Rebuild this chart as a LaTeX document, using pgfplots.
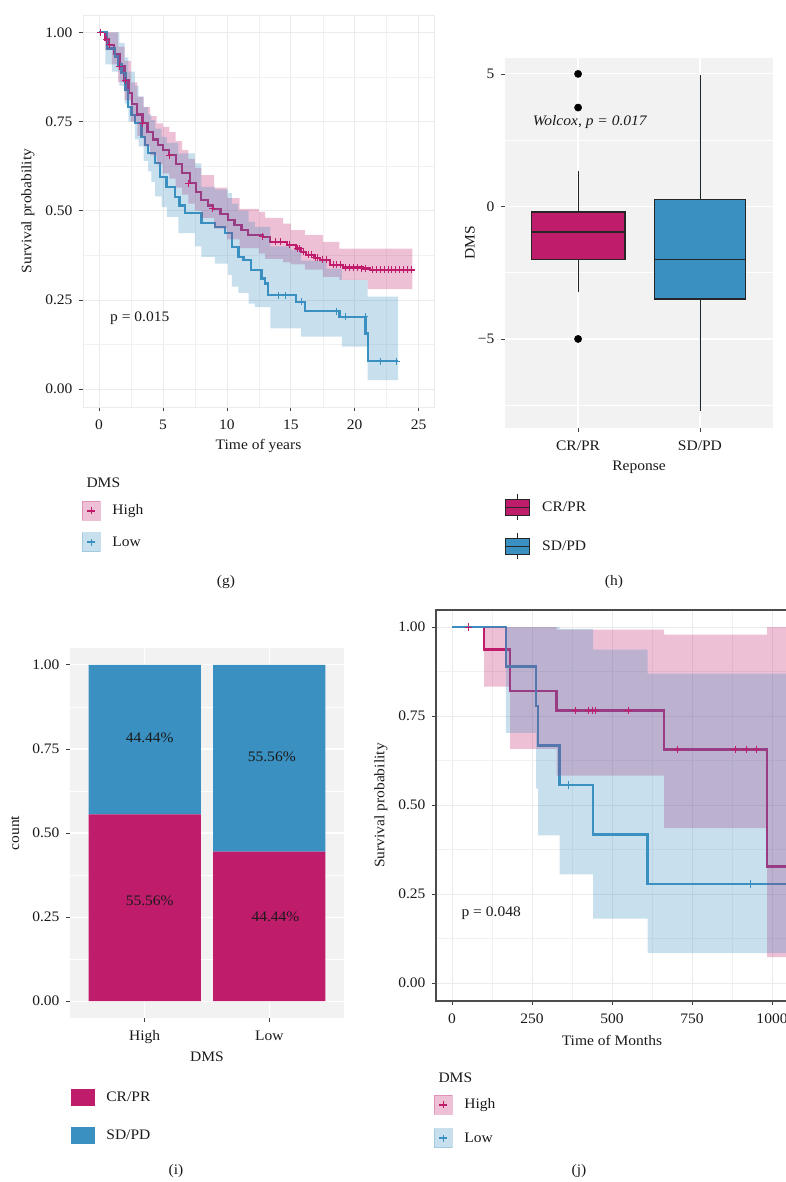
\documentclass[border=0pt]{standalone}
\usepackage{fontspec}
\setmainfont{Liberation Serif}[FakeStretch=1.07]
\usepackage{pgfplots}
\usepackage{pgfplotstable}
\pgfplotsset{compat=1.18}
\usepgfplotslibrary{fillbetween,statistics}

\definecolor{mag}{HTML}{C01C6C}
\definecolor{blu}{HTML}{3A90C0}
\definecolor{panelbg}{HTML}{F2F2F2}
\definecolor{gridc}{HTML}{EBEBEB}
\definecolor{txt}{HTML}{1A1A1A}
\newcommand{\fs}{\fontsize{14.5}{17}\selectfont}

\pgfplotsset{
  /tikz/fill between/on layer=main,
  base/.style={
    scale only axis,
    font=\fs,
    tick label style={font=\fs, text=txt},
    xticklabel style={yshift=-5pt},
    yticklabel style={xshift=-3pt},
    label style={font=\fs, text=txt},
    /pgf/number format/assume math mode=true,
    /pgf/number format/1000 sep={},
    tick align=outside, tick pos=left,
    major tick length=4pt, minor tick length=0pt,
    tick style={black!75, line width=0.7pt},
    legend cell align=left,
    legend style={draw=none, fill=none, font=\fs, inner sep=0pt, outer sep=0pt,
      nodes={inner sep=0pt, text=txt}, column sep=12pt},
  },
  km/.style={base, axis line style={draw=gridc, line width=0.6pt}, grid=both,
    major grid style={draw=gridc, line width=0.7pt},
    minor grid style={draw=gridc!70, line width=0.5pt}},
  gg/.style={base, axis background/.style={fill=panelbg}, axis line style={draw=none},
    grid=both, major grid style={draw=white, line width=1.2pt},
    minor grid style={draw=white, line width=0.6pt}},
  yfmt/.style={yticklabel style={/pgf/number format/.cd, fixed, fixed zerofill, precision=2}},
  kmkeyH/.style={legend image code/.code={
      \fill[mag, opacity=0.28] (0pt,-9.5pt) rectangle (18pt,9.5pt);
      \draw[mag, line width=1.6pt] (5pt,0pt)--(13pt,0pt);
      \draw[mag, line width=0.8pt] (9pt,-3.5pt)--(9pt,3.5pt);}},
  kmkeyL/.style={legend image code/.code={
      \fill[blu, opacity=0.28] (0pt,-9.5pt) rectangle (18pt,9.5pt);
      \draw[blu, line width=1.6pt] (5pt,0pt)--(13pt,0pt);
      \draw[blu, line width=0.8pt] (9pt,-3.5pt)--(9pt,3.5pt);}},
}

\begin{document}

% ---------- (g) ----------
\pgfplotstableread{
x y
0 1
0.5 0.98
0.8 0.965
1.2 0.94
1.6 0.905
2.0 0.865
2.3 0.83
2.6 0.80
3.0 0.77
3.4 0.745
3.8 0.72
4.2 0.70
4.6 0.685
5.0 0.67
5.5 0.656
6.0 0.63
6.5 0.605
7.1 0.577
7.6 0.553
8.0 0.53
8.5 0.515
8.9 0.505
9.5 0.49
10.1 0.474
10.6 0.46
11.15 0.446
11.66 0.432
12.8 0.427
13.4 0.413
14.7 0.404
15.4 0.394
15.8 0.385
16.2 0.376
16.8 0.368
17.3 0.362
18.05 0.348
19.1 0.341
20.65 0.338
21.2 0.334
24.7 0.334
}\gHigh

\pgfplotstableread{
x y
0.1 1.0
0.6 0.98
0.8 0.965
1.6 0.905
2.1 0.865
3.4 0.745
5.5 0.656
7.0 0.577
8.9 0.505
12.8 0.427
13.8 0.413
14.2 0.413
14.9 0.404
15.5 0.394
15.7 0.394
16.0 0.385
16.4 0.376
16.6 0.376
16.9 0.368
17.1 0.368
17.5 0.362
17.8 0.362
18.3 0.348
18.6 0.348
18.9 0.348
19.3 0.341
19.6 0.341
19.9 0.341
20.2 0.341
20.5 0.338
20.8 0.338
21.4 0.334
21.7 0.334
22.0 0.334
22.3 0.334
22.6 0.334
22.9 0.334
23.2 0.334
23.5 0.334
23.8 0.334
24.1 0.334
24.4 0.334
}\gHighC

\pgfplotstableread{
x y
0 1
0.6 0.955
1.25 0.932
1.5 0.91
1.77 0.885
2.08 0.838
2.29 0.791
2.55 0.768
2.81 0.745
3.33 0.707
3.6 0.685
3.85 0.661
4.38 0.633
4.77 0.595
5.29 0.567
5.94 0.539
6.3 0.515
6.72 0.493
8.02 0.465
9.06 0.455
9.84 0.437
10.4 0.399
10.9 0.371
11.3 0.362
11.9 0.334
12.7 0.310
13.0 0.296
13.2 0.263
15.4 0.245
16.1 0.219
18.8 0.203
20.85 0.156
21.05 0.078
23.4 0.078
}\gLow

\pgfplotstableread{
x y
14.0 0.263
14.6 0.263
15.8 0.245
18.6 0.219
19.3 0.203
20.8 0.203
22.0 0.078
23.3 0.078
}\gLowC

\pgfplotstableread{
x lo up
0 1 1
0.5 0.95 1.0
1.0 0.91 1.0
1.5 0.86 0.96
2.0 0.81 0.92
2.5 0.75 0.86
3.0 0.71 0.82
3.5 0.68 0.79
4.0 0.655 0.765
4.5 0.63 0.745
5.0 0.605 0.735
5.5 0.59 0.72
6.0 0.565 0.695
6.5 0.545 0.67
7.0 0.52 0.645
7.5 0.50 0.62
8.0 0.48 0.60
9.0 0.45 0.565
10.0 0.42 0.535
11.0 0.395 0.505
12.5 0.38 0.497
13.0 0.365 0.48
14.4 0.355 0.464
15.0 0.35 0.446
16.1 0.335 0.432
17.5 0.315 0.413
18.8 0.306 0.394
21.0 0.28 0.394
24.5 0.28 0.394
}\gHband

\pgfplotstableread{
x lo up
0 1 1
0.5 0.91 1.0
1.0 0.89 1.0
1.6 0.85 0.97
2.0 0.80 0.93
2.3 0.75 0.89
2.8 0.70 0.85
3.1 0.68 0.82
3.5 0.64 0.79
3.85 0.61 0.77
4.1 0.58 0.754
4.4 0.54 0.73
4.9 0.51 0.707
5.3 0.483 0.69
6.2 0.437 0.661
7.5 0.40 0.633
8.0 0.371 0.567
9.06 0.352 0.56
10.1 0.32 0.549
10.4 0.287 0.52
10.9 0.27 0.50
11.7 0.24 0.469
12.2 0.23 0.455
13.4 0.17 0.40
15.0 0.17 0.39
15.8 0.147 0.36
17.8 0.147 0.338
19.0 0.119 0.306
21.0 0.025 0.259
23.4 0.025 0.259
}\gLband

% ---------- (j) ----------
\pgfplotstableread{
x y
0 1
100 0.9375
182 0.8203
327 0.7656
663 0.656
985 0.328
1100 0.328
}\jHigh

\pgfplotstableread{
x y
52 1
386 0.7656
426 0.7656
438 0.7656
448 0.7656
550 0.7656
705 0.656
885 0.656
919 0.656
951 0.656
}\jHighC

\pgfplotstableread{
x y
0 1
168 0.889
263 0.778
269 0.667
336 0.556
441 0.417
611 0.278
1100 0.278
}\jLow

\pgfplotstableread{
x y
363 0.556
933 0.278
}\jLowC

\pgfplotstableread{
x lo up
0 1 1
100 0.833 1.0
182 0.658 1.0
327 0.583 0.993
663 0.435 0.979
985 0.073 1.0
1100 0.073 1.0
}\jHband

\pgfplotstableread{
x lo up
0 1 1
168 0.703 1.0
263 0.546 1.0
269 0.415 1.0
336 0.305 0.995
441 0.181 0.937
611 0.084 0.869
1100 0.084 0.869
}\jLband

\begin{tikzpicture}

% ===== (g) =====
\begin{axis}[km, yfmt, at={(83pt,-407pt)}, anchor=south west, width=351pt, height=392pt,
  xmin=-1.25, xmax=26.2, ymin=-0.05, ymax=1.0485,
  xtick={0,5,10,15,20,25}, minor xtick={2.5,7.5,12.5,17.5,22.5},
  ytick={0,0.25,0.5,0.75,1}, minor ytick={0.125,0.375,0.625,0.875},
  xlabel={Time of years}, ylabel={Survival probability},
  xlabel style={at={(axis description cs:0.5,-0.0995)}, anchor=center},
  ylabel style={at={(axis description cs:-0.157,0.5)}, anchor=center},
  legend style={at={(axis description cs:-0.003,-0.2398)}, anchor=north west, row sep=12pt},
]
\addplot[forget plot, const plot, mag, line width=2.3pt] table {\gHigh};
\addplot[forget plot, const plot, blu, line width=2.3pt] table {\gLow};
\addplot[forget plot, only marks, mark=+, mark size=3.5pt, mag, line width=0.9pt] table {\gHighC};
\addplot[forget plot, only marks, mark=+, mark size=3.5pt, blu, line width=0.9pt] table {\gLowC};
\addplot[forget plot, draw=none, const plot, name path=ghl] table[x=x,y=lo] {\gHband};
\addplot[forget plot, draw=none, const plot, name path=ghu] table[x=x,y=up] {\gHband};
\addplot[forget plot, fill=mag, fill opacity=0.28, draw=none] fill between[of=ghl and ghu];
\addplot[forget plot, draw=none, const plot, name path=gll] table[x=x,y=lo] {\gLband};
\addplot[forget plot, draw=none, const plot, name path=glu] table[x=x,y=up] {\gLband};
\addplot[forget plot, fill=blu, fill opacity=0.28, draw=none] fill between[of=gll and glu];
\node[anchor=west, font=\fs, text=txt] at (axis cs:0.6,0.2) {p = 0.015};
\addlegendimage{kmkeyH}\addlegendentry{High}
\addlegendimage{kmkeyL}\addlegendentry{Low}
\end{axis}

% ===== (h) =====
\begin{axis}[gg, at={(505pt,-428pt)}, anchor=south west, width=268pt, height=370pt,
  xmin=0.4, xmax=2.6, ymin=-8.36, ymax=5.6,
  xtick={1,2}, xticklabels={CR/PR,SD/PD},
  ytick={-5,0,5}, yticklabels={−5,0,5}, minor ytick={-7.5,-2.5,2.5},
  xlabel={Reponse}, ylabel={DMS},
  xlabel style={at={(axis description cs:0.5,-0.105)}, anchor=center},
  ylabel style={at={(axis description cs:-0.1306,0.5)}, anchor=center},
  legend style={at={(axis description cs:0,-0.1784)}, anchor=north west, row sep=12pt},
  boxplot/draw direction=y,
  boxplot/every whisker/.append style={line width=0.8pt},
  boxplot/every median/.append style={line width=1.6pt},
]
\addplot[forget plot, boxplot prepared={draw position=1, median=-0.97, upper quartile=-0.21,
    lower quartile=-2.0, upper whisker=1.33, lower whisker=-3.24, box extend=0.77, whisker extend=0},
  boxplot/draw direction=y,
  fill=mag, draw=black!85, line width=1.2pt, mark=*, mark size=3.6pt,
  mark options={fill=black, draw=black, line width=0.5pt}] coordinates {(1,5) (1,3.73) (1,-5)};
\addplot[forget plot, boxplot prepared={draw position=2, median=-2.0, upper quartile=0.26,
    lower quartile=-3.49, upper whisker=4.95, lower whisker=-7.72, box extend=0.75, whisker extend=0},
  boxplot/draw direction=y,
  fill=blu, draw=black!85, line width=1.2pt] coordinates {};
\node[anchor=west, font=\fs\itshape, text=txt] at (axis cs:0.6,3.19) {Wolcox, p = 0.017};
\addlegendimage{legend image code/.code={
  \draw[black!85, line width=0.8pt] (12pt,-13pt)--(12pt,13pt);
  \filldraw[fill=mag, draw=black!85, line width=1pt] (0pt,-8pt) rectangle (24pt,8pt);
  \draw[black!85, line width=1.2pt] (0pt,0pt)--(24pt,0pt);}}
\addlegendentry{CR/PR}
\addlegendimage{legend image code/.code={
  \draw[black!85, line width=0.8pt] (12pt,-13pt)--(12pt,13pt);
  \filldraw[fill=blu, draw=black!85, line width=1pt] (0pt,-8pt) rectangle (24pt,8pt);
  \draw[black!85, line width=1.2pt] (0pt,0pt)--(24pt,0pt);}}
\addlegendentry{SD/PD}
\end{axis}

% ===== (i) =====
\begin{axis}[gg, yfmt, ybar stacked, bar width=0.9, at={(70pt,-1018pt)}, anchor=south west,
  width=274pt, height=370pt,
  xmin=0.4, xmax=2.6, ymin=-0.05, ymax=1.05,
  xtick={1,2}, xticklabels={High,Low},
  ytick={0,0.25,0.5,0.75,1}, minor ytick={0.125,0.375,0.625,0.875},
  xlabel={DMS}, ylabel={count},
  xlabel style={at={(axis description cs:0.5,-0.105)}, anchor=center},
  ylabel style={at={(axis description cs:-0.2007,0.5)}, anchor=center},
  legend style={at={(axis description cs:0.0036,-0.1919)}, anchor=north west, row sep=22pt},
  after end axis/.code={
    \node[font=\fs, text=txt] at (axis cs:1.04,0.783) {44.44\%};
    \node[font=\fs, text=txt] at (axis cs:1.04,0.30) {55.56\%};
    \node[font=\fs, text=txt] at (axis cs:2.02,0.727) {55.56\%};
    \node[font=\fs, text=txt] at (axis cs:2.05,0.25) {44.44\%};
  },
]
\addplot[forget plot, fill=mag, draw=none] coordinates {(1,0.5556) (2,0.4444)};
\addplot[forget plot, fill=blu, draw=none] coordinates {(1,0.4444) (2,0.5556)};
\addlegendimage{legend image code/.code={\fill[mag] (0pt,-8pt) rectangle (23pt,8pt);}}
\addlegendentry{CR/PR}
\addlegendimage{legend image code/.code={\fill[blu] (0pt,-8pt) rectangle (23pt,8pt);}}
\addlegendentry{SD/PD}
\end{axis}

% ===== (j) =====
\begin{axis}[km, yfmt, at={(436pt,-1001pt)}, anchor=south west, width=368pt, height=391pt,
  xmin=-50, xmax=1100, ymin=-0.0506, ymax=1.048,
  axis line style={draw=black!70, line width=1.2pt},
  xtick={0,250,500,750,1000}, minor xtick={125,375,625,875},
  ytick={0,0.25,0.5,0.75,1}, minor ytick={0.125,0.375,0.625,0.875},
  xlabel={Time of Months}, ylabel={Survival probability},
  xlabel style={at={(axis description cs:0.478,-0.0997)}, anchor=center},
  ylabel style={at={(axis description cs:-0.1495,0.5)}, anchor=center},
  legend style={at={(axis description cs:-0.0054,-0.2404)}, anchor=north west, row sep=14pt},
]
\addplot[forget plot, const plot, mag, line width=2.5pt] table {\jHigh};
\addplot[forget plot, const plot, blu, line width=2.5pt] table {\jLow};
\addplot[forget plot, only marks, mark=+, mark size=3.8pt, mag, line width=1pt] table {\jHighC};
\addplot[forget plot, only marks, mark=+, mark size=3.8pt, blu, line width=1pt] table {\jLowC};
\addplot[forget plot, draw=none, const plot, name path=jhl] table[x=x,y=lo] {\jHband};
\addplot[forget plot, draw=none, const plot, name path=jhu] table[x=x,y=up] {\jHband};
\addplot[forget plot, fill=mag, fill opacity=0.28, draw=none] fill between[of=jhl and jhu];
\addplot[forget plot, draw=none, const plot, name path=jll] table[x=x,y=lo] {\jLband};
\addplot[forget plot, draw=none, const plot, name path=jlu] table[x=x,y=up] {\jLband};
\addplot[forget plot, fill=blu, fill opacity=0.28, draw=none] fill between[of=jll and jlu];
\node[anchor=west, font=\fs, text=txt] at (axis cs:19,0.197) {p = 0.048};
\addlegendimage{kmkeyH}\addlegendentry{High}
\addlegendimage{kmkeyL}\addlegendentry{Low}
\end{axis}

% titles and panel labels
\node[anchor=west, font=\fs, text=txt] at (83pt,-483pt) {DMS};
\node[anchor=west, font=\fs, text=txt] at (435pt,-1078pt) {DMS};
\node[font=\fs, text=txt] at (226pt,-582pt) {(g)};
\node[font=\fs, text=txt] at (614pt,-582pt) {(h)};
\node[font=\fs, text=txt] at (176pt,-1171pt) {(i)};
\node[font=\fs, text=txt] at (579pt,-1171pt) {(j)};

\pgfresetboundingbox
\path[use as bounding box] (0pt,0pt) rectangle (785pt,-1182pt);
\end{tikzpicture}
\end{document}
